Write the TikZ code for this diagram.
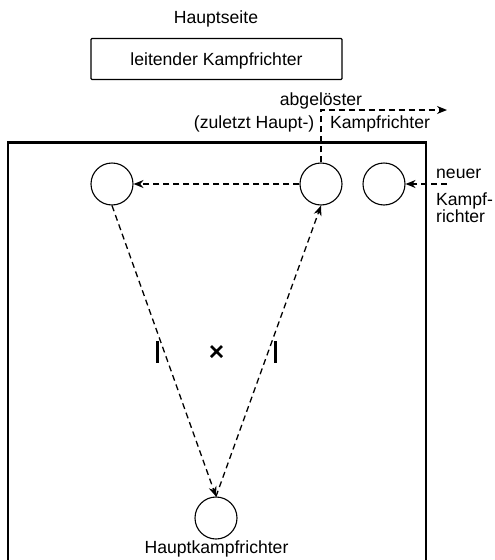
\documentclass[tikz,border=0pt]{standalone}
\usepackage{fontspec}
\setmainfont{Liberation Sans}
\usetikzlibrary{arrows.meta}
\tikzset{
  x=1pt,y=-1pt,
  ref/.style={circle,draw,line width=1.1pt,minimum size=42pt,inner sep=0pt},
  lab/.style={font=\fontsize{17.6}{20}\selectfont,inner sep=0pt},
  conn/.style={line width=1.3pt,dash pattern=on 6pt off 4pt,-{Stealth[length=10pt,width=8pt]}},
}
\begin{document}
\begin{tikzpicture}
\useasboundingbox (0,0) rectangle (495,560);
\node[lab,anchor=base] (hs) at (216,23) {Hauptseite};
\node[draw,line width=1.4pt,rounded corners=1pt,minimum width=251pt,minimum height=41pt] (lk) at (216.5,59) {};
\node[lab,anchor=base] (lt) at (216.5,65) {leitender Kampfrichter};
\node[lab,anchor=base] (ab) at (321,105.5) {abgelöster};
\node[lab,anchor=base east] (zh) at (314.5,128) {(zuletzt Haupt-)};
\node[lab,anchor=base west] (kf) at (330,128) {Kampfrichter};
\draw[line width=2.2pt] (8,560) -- (8,142.5) -- (426,142.5) -- (426,560);
\node[ref] (a) at (112,184) {};
\node[ref] (b) at (321,184) {};
\node[ref] (c) at (384,184) {};
\node[ref] (d) at (216,518) {};
\node[lab,anchor=base west] (n1) at (436,178) {neuer};
\node[lab,anchor=base west] (n2) at (436,205) {Kampf-};
\node[lab,anchor=base west] (n3) at (436,222.5) {richter};
\node[lab,anchor=base] (hk) at (216.5,553) {Hauptkampfrichter};
\coordinate (inR) at (447,184);
\coordinate (bend) at (321,110);
\coordinate (outR) at (447,110);
\draw[conn] (b) -- (a);
\draw[conn] (a.south) -- (d.north);
\draw[conn] (d.north) -- (b.south);
\draw[conn] (inR) -- (c);
\draw[conn] (b.north) -- (bend) -- (outR);
\draw[line width=2.6pt] (157.5,341) -- (157.5,363);
\draw[line width=2.6pt] (275.5,341) -- (275.5,363);
\draw[line width=2.6pt] (211,346) -- (222,357) (222,346) -- (211,357);
\end{tikzpicture}
\end{document}
